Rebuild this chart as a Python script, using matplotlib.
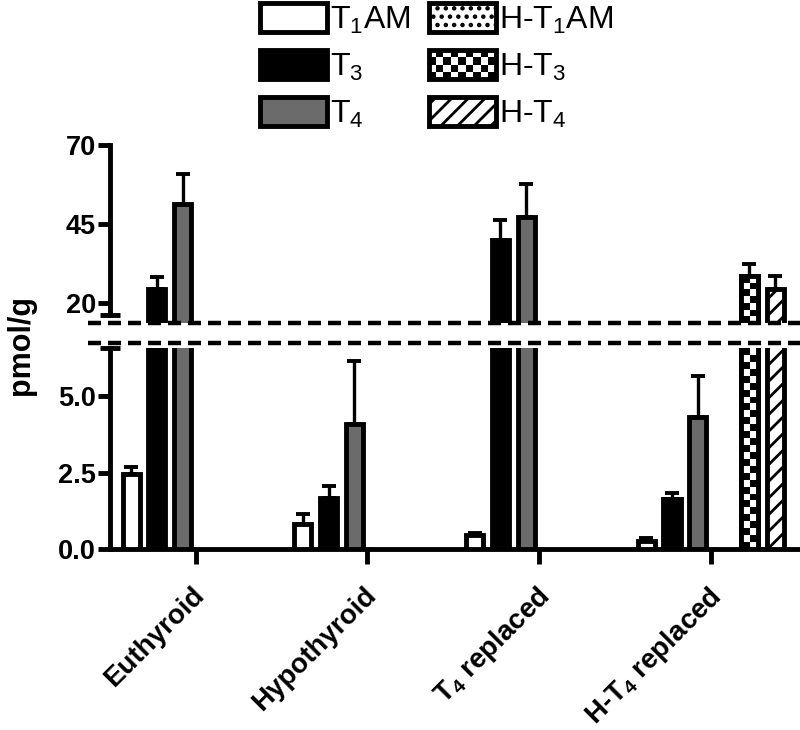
import numpy as np
import matplotlib
matplotlib.use('Agg')
import matplotlib.pyplot as plt
import matplotlib.transforms as mtransforms
from matplotlib.patches import Patch, Rectangle
from matplotlib.legend_handler import HandlerBase
from matplotlib.lines import Line2D

plt.rcParams['font.family'] = ['Liberation Sans', 'DejaVu Sans']
plt.rcParams['mathtext.fontset'] = 'custom'
plt.rcParams['mathtext.rm'] = 'Liberation Sans'
plt.rcParams['mathtext.bf'] = 'Liberation Sans:bold'
plt.rcParams['mathtext.it'] = 'Liberation Sans:italic'
plt.rcParams['hatch.linewidth'] = 2.0
plt.rcParams['lines.scale_dashes'] = False

# ---------------- data ----------------
group_labels = ['Euthyroid', 'Hypothyroid', r'T$_\mathbf{4}$ replaced', r'H-T$_\mathbf{4}$ replaced']
series_labels = [r'T$_\mathregular{1}$AM', r'T$_\mathregular{3}$', r'T$_\mathregular{4}$',
                 r'H-T$_\mathregular{1}$AM', r'H-T$_\mathregular{3}$', r'H-T$_\mathregular{4}$']

t1am = [2.45, 0.82, 0.47, 0.27]
t1am_err = [0.22, 0.32, 0.06, 0.10]
t3 = [24.6, 1.68, 40.0, 1.62]
t3_err = [3.6, 0.38, 6.3, 0.20]
t4 = [51.4, 4.10, 47.2, 4.30]
t4_err = [9.4, 2.05, 10.5, 1.35]
h_t1am = [np.nan, np.nan, np.nan, np.nan]
h_t1am_err = [np.nan, np.nan, np.nan, np.nan]
h_t3 = [np.nan, np.nan, np.nan, 28.5]
h_t3_err = [np.nan, np.nan, np.nan, 3.8]
h_t4 = [np.nan, np.nan, np.nan, 24.3]
h_t4_err = [np.nan, np.nan, np.nan, 4.3]

top_ticks = [20, 45, 70]
bot_ticks = [0.0, 2.5, 5.0]
bot_ticklabels = ['0.0', '2.5', '5.0']

values = [t1am, t3, t4, h_t1am, h_t3, h_t4]
errors = [t1am_err, t3_err, t4_err, h_t1am_err, h_t3_err, h_t4_err]
faces = ['white', 'black', '#6b6b6b', 'white', 'white', 'white']
hatches = [None, None, None, '..', 'checker', '//']

LW = 3.5
BW = 0.1
SLOT = 0.15

fig = plt.figure(figsize=(8, 7.3), dpi=100)
W, H = 800.0, 730.0
ax_top = fig.add_axes([110 / W, 1 - 323 / H, 690 / W, (323 - 145) / H])
ax_bot = fig.add_axes([110 / W, 1 - 549 / H, 690 / W, (549 - 348) / H])

xg = np.arange(len(group_labels))
offsets = (np.arange(6) - 2.5) * SLOT
XLIM = (-0.498, 3.52)
YTOP = (13.7, 70)
YBOT = (0, 6.57)

containers = {}
for ax in (ax_top, ax_bot):
    for k in range(6):
        v = np.array(values[k], dtype=float)
        e = np.array(errors[k], dtype=float)
        h = hatches[k] if hatches[k] not in (None, 'checker') else None
        bars = ax.bar(xg + offsets[k], v, width=BW, color=faces[k], edgecolor='black',
                      linewidth=LW, hatch=h, zorder=3)
        containers[(ax, k)] = bars
        ax.errorbar(xg + offsets[k], v, yerr=[np.zeros_like(e), e], fmt='none',
                    ecolor='black', elinewidth=2.4, capsize=4.7, capthick=2.8, zorder=2)

ax_top.set_xlim(*XLIM)
ax_bot.set_xlim(*XLIM)
ax_top.set_ylim(*YTOP)
ax_bot.set_ylim(*YBOT)


def add_checker(ax, bars, cell=7.0):
    ylo, yhi = ax.get_ylim()
    for r in bars.patches:
        h = r.get_height()
        if not np.isfinite(h) or h <= 0:
            continue
        x0 = r.get_x()
        x1 = x0 + r.get_width()
        y0 = max(r.get_y(), ylo)
        y1 = min(r.get_y() + h, yhi)
        if y1 <= y0:
            continue
        p0 = ax.transData.transform((x0, y0))
        p1 = ax.transData.transform((x1, y1))
        nx = 2
        ny = max(1, int(round((p1[1] - p0[1]) / cell)))
        arr = (np.add.outer(np.arange(ny), np.arange(nx)) % 2).astype(float)
        im = ax.imshow(arr, extent=(x0, x1, y0, y1), origin='lower', cmap='gray',
                       vmin=0, vmax=1, interpolation='nearest', aspect='auto', zorder=3.5)
        im.set_clip_path(r)
        ax.add_patch(Rectangle((x0, r.get_y()), r.get_width(), h, fill=False,
                               edgecolor='black', linewidth=LW, zorder=4))


for ax in (ax_top, ax_bot):
    add_checker(ax, containers[(ax, 4)])

ax_top.set_xlim(*XLIM)
ax_bot.set_xlim(*XLIM)
ax_top.set_ylim(*YTOP)
ax_bot.set_ylim(*YBOT)

# spines / ticks
for ax in (ax_top, ax_bot):
    for s in ('top', 'right'):
        ax.spines[s].set_visible(False)
    for s in ('left', 'bottom'):
        ax.spines[s].set_linewidth(LW)
    ax.tick_params(axis='y', direction='out', length=9, width=LW, labelsize=19.5, pad=1)
    ax.tick_params(axis='x', direction='out', length=11, width=LW, labelsize=20, pad=13)

ax_top.spines['bottom'].set_visible(False)
ax_top.tick_params(axis='x', bottom=False, labelbottom=False)
ax_top.spines['left'].set_bounds(16.2, 70)
ax_top.set_yticks(top_ticks)
ax_top.set_yticklabels([str(t) for t in top_ticks], fontweight='bold')

ax_bot.set_yticks(bot_ticks)
ax_bot.set_yticklabels(bot_ticklabels, fontweight='bold')
ax_bot.set_xticks(xg)
ax_bot.set_xticklabels(group_labels, rotation=45, ha='right', va='top',
                       rotation_mode='anchor', fontsize=20, fontweight='bold')
shift = mtransforms.ScaledTranslation(-4 / 100, 0, fig.dpi_scale_trans)
for lab in ax_bot.get_xticklabels():
    lab.set_transform(lab.get_transform() + shift)

# break caps on y spine
cap = 10 / 690
tr = mtransforms.blended_transform_factory(ax_top.transAxes, ax_top.transData)
ax_top.plot([-cap, cap], [16.2, 16.2], transform=tr, color='black', lw=LW,
            clip_on=False, solid_capstyle='butt')
tr2 = mtransforms.blended_transform_factory(ax_bot.transAxes, ax_bot.transData)
ax_bot.plot([-cap, cap], [YBOT[1], YBOT[1]], transform=tr2, color='black', lw=LW,
            clip_on=False, solid_capstyle='butt')

# dashed break lines
for ypx in (323, 343):
    fig.add_artist(Line2D([88 / W, 1.0], [1 - ypx / H, 1 - ypx / H], transform=fig.transFigure,
                          color='black', lw=3.2, linestyle=(0, (9.4, 5.0)), zorder=10))

fig.text(21 / W, 1 - 345 / H, 'pmol/g', rotation=90, ha='center', va='center',
         fontsize=22, fontweight='bold')


# legend
class CheckerPatch(Patch):
    pass


class CheckerHandler(HandlerBase):
    def create_artists(self, legend, orig_handle, xdescent, ydescent, width, height,
                       fontsize, trans):
        x0, y0 = -xdescent, -ydescent
        nx, ny = 9, 4
        cw, ch = width / nx, height / ny
        arts = [Rectangle((x0, y0), width, height, facecolor='white', edgecolor='none',
                          transform=trans)]
        for i in range(nx):
            for j in range(ny):
                if (i + j) % 2 == 0:
                    arts.append(Rectangle((x0 + i * cw, y0 + j * ch), cw, ch,
                                          facecolor='black', edgecolor='none', transform=trans))
        arts.append(Rectangle((x0, y0), width, height, facecolor='none', edgecolor='black',
                              linewidth=LW, transform=trans))
        return arts


handles = []
for k in range(6):
    if hatches[k] == 'checker':
        handles.append(CheckerPatch(facecolor='white', edgecolor='black', linewidth=LW))
    else:
        handles.append(Patch(facecolor=faces[k], edgecolor='black', linewidth=LW,
                             hatch=hatches[k]))

fig.legend(handles, series_labels, ncol=2, loc='upper left',
           bbox_to_anchor=(257 / W, 1 - 0 / H), frameon=False, fontsize=23,
           handlelength=2.1, handleheight=1.02, handletextpad=0.1,
           columnspacing=0.55, labelspacing=0.45, borderpad=0.1, borderaxespad=0,
           handler_map={CheckerPatch: CheckerHandler()})

fig.savefig('out.png', dpi=100)
